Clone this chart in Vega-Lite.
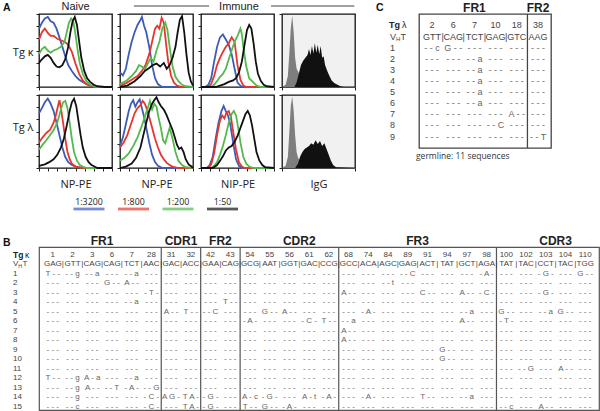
{
"$schema": "https://vega.github.io/schema/vega-lite/v6.json",
"background": "white",
"padding": {"left": 2, "top": -1, "right": 0, "bottom": 0},
"config": {"view": {"stroke": null}, "font": "Liberation Sans", "axis": {"grid": false}},
"datasets": {
"hist": [
{"p":"k1","s":"1:3200","x":[0,4,8,12,16,20,24,28,32,36,40,45,50,55,60,65,70,75,80,90,100],"y":[80,88,94,96,90,88,80,68,55,42,30,22,15,10,7,4,2,1,0,0,0]},
{"p":"k1","s":"1:800","x":[0,4,8,12,16,20,25,30,35,40,45,50,55,60,65,70,75,80,90,100],"y":[65,75,80,74,70,70,66,64,62,58,48,32,18,9,4,2,1,0,0,0]},
{"p":"k1","s":"1:200","x":[0,4,8,12,16,20,25,30,35,38,41,44,47,50,53,56,60,65,70,75,80,90,100],"y":[45,52,55,50,47,50,52,55,62,75,88,94,90,72,50,32,18,8,3,1,0,0,0]},
{"p":"k1","s":"1:50","x":[0,4,8,12,16,20,24,28,32,36,40,43,46,49,52,55,58,62,66,70,75,80,90,100],"y":[33,38,42,44,40,33,28,27,30,38,55,75,90,96,85,62,40,22,12,7,3,1,0,0]},
{"p":"k2","s":"1:3200","x":[0,4,8,12,16,20,24,28,30,33,36,40,44,48,52,56,60,100],"y":[20,16,25,45,62,75,85,92,96,84,75,55,30,12,4,1,0,0]},
{"p":"k2","s":"1:800","x":[0,8,16,24,30,35,40,44,48,51,54,57,60,63,66,70,74,78,85,100],"y":[2,5,10,15,22,30,45,62,80,84,80,95,88,60,35,15,6,2,0,0]},
{"p":"k2","s":"1:200","x":[0,8,16,22,26,30,34,38,42,46,50,54,58,62,65,68,72,76,80,85,90,100],"y":[4,8,15,22,30,28,24,32,40,35,50,62,80,88,78,55,28,14,8,3,1,0]},
{"p":"k2","s":"1:50","x":[0,10,20,28,34,40,45,50,55,60,64,68,72,76,79,82,85,88,91,94,97,100],"y":[0,2,8,15,22,26,30,32,28,33,25,30,40,55,75,92,97,75,45,20,8,2]},
{"p":"k3","s":"1:3200","x":[0,6,10,14,18,22,26,30,34,38,42,46,50,55,60,100],"y":[0,0,3,12,35,55,68,72,65,58,45,25,6,1,0,0]},
{"p":"k3","s":"1:800","x":[0,10,14,18,22,26,30,34,38,42,46,50,54,58,62,100],"y":[0,0,4,15,30,40,48,55,60,68,62,30,10,2,0,0]},
{"p":"k3","s":"1:200","x":[0,14,18,22,26,30,34,38,42,46,50,54,56,58,62,66,70,76,82,100],"y":[0,0,3,8,14,18,25,38,50,62,70,80,72,55,28,12,8,2,0,0]},
{"p":"k3","s":"1:50","x":[0,20,26,32,38,44,48,52,56,60,63,66,69,72,75,78,82,86,90,100],"y":[0,0,2,4,7,9,12,20,35,60,78,85,80,60,35,18,8,3,1,0]},
{"p":"l1","s":"1:3200","x":[0,4,8,12,16,20,24,28,32,36,40,45,50,55,60,100],"y":[75,82,90,95,88,78,62,45,28,15,8,4,2,1,0,0]},
{"p":"l1","s":"1:800","x":[0,5,10,15,20,23,26,28,30,33,36,39,42,45,50,55,60,100],"y":[35,42,48,52,62,72,85,93,82,62,40,22,12,6,2,1,0,0]},
{"p":"l1","s":"1:200","x":[0,5,10,15,20,25,30,33,36,39,42,45,48,52,56,60,65,100],"y":[25,32,38,45,52,62,80,90,92,82,62,40,22,10,4,2,0,0]},
{"p":"l1","s":"1:50","x":[0,8,14,20,25,30,34,38,42,45,48,51,54,57,60,64,68,72,76,80,100],"y":[3,5,8,12,18,28,40,58,78,90,95,85,65,45,28,15,8,4,2,0,0]},
{"p":"l2","s":"1:3200","x":[0,4,8,12,15,18,21,24,27,30,33,36,40,44,48,52,56,60,100],"y":[30,42,60,78,88,93,84,90,94,82,70,55,35,18,8,3,1,0,0]},
{"p":"l2","s":"1:800","x":[0,5,10,15,20,24,28,31,34,37,40,44,48,52,56,60,64,68,72,80,100],"y":[28,35,45,60,75,82,86,92,88,80,70,55,40,28,18,12,7,4,2,0,0]},
{"p":"l2","s":"1:200","x":[0,6,12,18,24,30,34,38,41,44,47,50,53,56,59,62,65,68,72,76,80,85,90,100],"y":[10,14,20,30,42,58,70,82,92,80,88,84,68,55,38,34,45,55,40,22,10,4,1,0]},
{"p":"l2","s":"1:50","x":[0,8,16,22,28,32,36,40,44,47,50,53,56,60,64,68,72,75,78,81,84,87,90,94,98,100],"y":[0,2,6,14,28,45,62,78,88,93,97,90,85,80,72,62,52,42,32,26,28,22,12,5,2,0]},
{"p":"l3","s":"1:3200","x":[0,8,12,16,20,24,28,31,34,37,40,44,48,52,56,100],"y":[0,0,4,15,40,62,78,85,78,72,60,35,12,3,0,0]},
{"p":"l3","s":"1:800","x":[0,10,14,18,22,26,29,32,35,38,41,44,48,52,56,60,100],"y":[0,0,5,20,45,65,72,68,76,78,70,50,25,8,2,0,0]},
{"p":"l3","s":"1:200","x":[0,14,18,22,26,30,34,38,42,45,48,51,54,58,62,66,72,100],"y":[0,0,3,8,18,30,45,62,74,78,72,55,35,15,6,2,0,0]},
{"p":"l3","s":"1:50","x":[0,16,22,26,30,34,38,42,46,50,54,58,61,64,67,70,73,76,80,84,88,100],"y":[0,0,4,10,16,24,28,30,36,44,55,66,74,78,72,58,40,22,10,4,1,0]}
],
"igg": [
{"p":"k4","s":"neg","x":[0,5,8,10,12,14,16,18,20,25,30,40,50,55,100],"y":[0,3,15,45,80,98,75,40,25,15,12,12,5,0,0]},
{"p":"k4","s":"pos","x":[17,20,23,26,29,32,35,37,39,41,43,45,47,49,51,53,55,57,59,62,65,68,72,76,80,85,100],"y":[0,6,18,30,36,40,44,52,44,56,46,60,47,58,45,56,40,42,30,22,15,9,5,3,1,0,0]},
{"p":"l4","s":"neg","x":[0,5,8,10,12,14,16,18,20,22,25,30,35,40,45,50,100],"y":[0,3,15,48,85,98,78,45,22,14,10,8,7,6,4,0,0]},
{"p":"l4","s":"pos","x":[18,22,25,28,31,34,37,40,43,46,49,52,55,58,61,64,67,70,74,100],"y":[0,6,16,22,26,28,30,34,32,38,33,37,30,34,26,18,10,4,1,0]}
],
"bgerm": [{"c":"1","g":"GAG"},{"c":"2","g":"GTT"},{"c":"3","g":"CAG"},{"c":"6","g":"CAG"},{"c":"7","g":"TCT"},{"c":"28","g":"AAC"},{"c":"31","g":"GAC"},{"c":"32","g":"ACC"},{"c":"42","g":"GAA"},{"c":"43","g":"CAG"},{"c":"54","g":"GCG"},{"c":"55","g":"AAT"},{"c":"56","g":"GGT"},{"c":"61","g":"GAC"},{"c":"62","g":"CCG"},{"c":"68","g":"GCC"},{"c":"74","g":"ACA"},{"c":"84","g":"AGC"},{"c":"89","g":"GAG"},{"c":"91","g":"ACT"},{"c":"94","g":"TAT"},{"c":"97","g":"GCT"},{"c":"98","g":"AGA"},{"c":"100","g":"TAT"},{"c":"102","g":"TAC"},{"c":"103","g":"CCT"},{"c":"104","g":"TAC"},{"c":"110","g":"TGG"}],
"bmut": [
{"row":1,"1":"T - -","2":"- - g","3":"- - a","6":"- - -","7":"- - a","28":"- - -","31":"- - -","32":"- - -","42":"- - -","43":"- - -","54":"- - -","55":"- - -","56":"- - -","61":"- - -","62":"- - -","68":"- - -","74":"- - -","84":"- - -","89":"- - C","91":"- - -","94":"- - -","97":"- - -","98":"- A -","100":"- - -","102":"- - -","103":"- G -","104":"- - -","110":"G - -"},
{"row":2,"1":"- - -","2":"- - -","3":"- - -","6":"G - -","7":"A - -","28":"- - -","31":"- - -","32":"- - -","42":"- - -","43":"- - -","54":"- - -","55":"- - -","56":"- - -","61":"- - -","62":"- - -","68":"- - -","74":"- - -","84":"- - t","89":"- - -","91":"- - -","94":"- - -","97":"- - -","98":"- - -","100":"- - -","102":"- - -","103":"- - -","104":"- - -","110":"- - -"},
{"row":3,"1":"- - -","2":"- - -","3":"- - -","6":"- - -","7":"- - -","28":"- T -","31":"- - -","32":"- - -","42":"- - -","43":"- - -","54":"- - -","55":"- - -","56":"- - -","61":"- - -","62":"- - -","68":"A - -","74":"- - -","84":"- - -","89":"- - -","91":"C - -","94":"- - -","97":"A - -","98":"- C -","100":"- - -","102":"- - -","103":"- G -","104":"- - -","110":"- - -"},
{"row":4,"1":"- - -","2":"- - -","3":"- - -","6":"- - -","7":"- - a","28":"- - -","31":"- - -","32":"- - -","42":"- - -","43":"T - -","54":"- - -","55":"- - -","56":"- - -","61":"- - -","62":"- - -","68":"- - -","74":"- - -","84":"- - -","89":"- - -","91":"- - -","94":"- - -","97":"- - -","98":"- - -","100":"- - -","102":"- - -","103":"- - -","104":"- - -","110":"- - -"},
{"row":5,"1":"- - -","2":"- - -","3":"- - -","6":"- - -","7":"- - -","28":"- - -","31":"A - -","32":"T - -","42":"- - C","43":"- - -","54":"- - -","55":"G - -","56":"A - -","61":"- - -","62":"- - -","68":"- - -","74":"- A -","84":"- - -","89":"- - -","91":"- - -","94":"- - -","97":"- - a","98":"- - -","100":"G - -","102":"- - -","103":"- - a","104":"G - -","110":"- - -"},
{"row":6,"1":"- - -","2":"- - -","3":"- - -","6":"- - -","7":"- - -","28":"- - -","31":"- - -","32":"- - -","42":"- - -","43":"- - -","54":"- A -","55":"- - -","56":"- - -","61":"- C -","62":"T - -","68":"- - a","74":"- - -","84":"- - -","89":"- - -","91":"- - -","94":"- - -","97":"A - -","98":"- - -","100":"- T -","102":"- - -","103":"- - -","104":"- - -","110":"- - -"},
{"row":7,"1":"- - -","2":"- - -","3":"- - -","6":"- - -","7":"- - -","28":"- - -","31":"- - -","32":"- - -","42":"- - -","43":"- - -","54":"- - -","55":"- - -","56":"- - -","61":"- - -","62":"- - -","68":"A - -","74":"- - -","84":"- - -","89":"- - -","91":"- - -","94":"- - -","97":"- - -","98":"- - -","100":"- - -","102":"- - -","103":"- - -","104":"- - -","110":"- - -"},
{"row":8,"1":"- - -","2":"- - -","3":"- - -","6":"- - -","7":"- - -","28":"- - -","31":"- - -","32":"- - -","42":"- - -","43":"- - -","54":"- - -","55":"- - -","56":"- - -","61":"- - -","62":"- - -","68":"A - -","74":"- - -","84":"- - -","89":"- - -","91":"- - -","94":"- - -","97":"- - -","98":"- - -","100":"- - -","102":"- - -","103":"- - -","104":"- - -","110":"- - -"},
{"row":9,"1":"- - -","2":"- - -","3":"- - -","6":"- - -","7":"- - -","28":"- - -","31":"- - -","32":"- - -","42":"- - -","43":"- - -","54":"- - -","55":"- - -","56":"- - -","61":"- - -","62":"- - -","68":"- - -","74":"- - -","84":"- - -","89":"- - -","91":"- - -","94":"G - -","97":"- - -","98":"- - -","100":"- - -","102":"- - -","103":"- - -","104":"- - -","110":"- - -"},
{"row":10,"1":"- - -","2":"- - -","3":"- - -","6":"- - -","7":"- - -","28":"- - -","31":"- - -","32":"- - -","42":"- - -","43":"- - -","54":"- - -","55":"- - -","56":"- - -","61":"- - -","62":"- - -","68":"- - -","74":"- - -","84":"- - -","89":"- - -","91":"- - -","94":"G - -","97":"- - -","98":"- - -","100":"- - -","102":"- - -","103":"- - -","104":"- - -","110":"- - -"},
{"row":11,"1":"- - -","2":"- - -","3":"- - -","6":"- - -","7":"- - -","28":"- - -","31":"- - -","32":"- - -","42":"- - -","43":"- - -","54":"- - -","55":"- - -","56":"- - -","61":"- - -","62":"- - -","68":"- - -","74":"- - -","84":"- - -","89":"- - -","91":"- - -","94":"- - -","97":"- - -","98":"- - -","100":"- - -","102":"- - G","103":"- - -","104":"A - -","110":"- - -"},
{"row":12,"1":"T - -","2":"- - g","3":"A - a","6":"- - -","7":"- - a","28":"- - -","31":"- - -","32":"- - -","42":"- - -","43":"- - -","54":"- - -","55":"- - -","56":"- - -","61":"- - -","62":"- - -","68":"- - -","74":"- - -","84":"- - -","89":"- - -","91":"- - -","94":"- - -","97":"- - -","98":"- - -","100":"- - -","102":"- - -","103":"- - -","104":"- - -","110":"- - -"},
{"row":13,"1":"- - -","2":"- - g","3":"A - -","6":"- - T","7":"- A -","28":"- - G","31":"- - -","32":"- - -","42":"- - -","43":"- - -","54":"- - -","55":"- - -","56":"- - -","61":"- - -","62":"- - -","68":"- - -","74":"- - -","84":"- - -","89":"- - -","91":"- - -","94":"- - -","97":"- - -","98":"- - -","100":"- - -","102":"- - -","103":"- - -","104":"- - -","110":"- - -"},
{"row":14,"1":"- - -","2":"- - g","3":"- - -","6":"- - -","7":"- - -","28":"- C -","31":"A G -","32":"T A -","42":"- G -","43":"- - -","54":"A - c","55":"- G -","56":"- - -","61":"A - t","62":"- A -","68":"- - -","74":"- A -","84":"- - -","89":"- - -","91":"T - -","94":"- - -","97":"- - a","98":"- - -","100":"- - -","102":"- - -","103":"- - -","104":"- - -","110":"- - -"},
{"row":15,"1":"- - -","2":"- - c","3":"- - -","6":"- - -","7":"- - -","28":"- C -","31":"- - -","32":"T A -","42":"- G -","43":"- - -","54":"T - -","55":"G - -","56":"- A -","61":"- - -","62":"- - -","68":"- - -","74":"- - -","84":"- - -","89":"- - -","91":"- - -","94":"- - -","97":"- - -","98":"- - -","100":"- - c","102":"- - -","103":"A - -","104":"- - -","110":"- - -"}
],
"cgerm": [{"c":"2","g":"GTT"},{"c":"6","g":"CAG"},{"c":"7","g":"TCT"},{"c":"10","g":"GAG"},{"c":"18","g":"GTC"},{"c":"38","g":"AAG"}],
"cmut": [
{"row":1,"2":"- - c","6":"G - -","7":"- - -","10":"- - -","18":"- - -","38":"- - -"},
{"row":2,"2":"- - -","6":"- - -","7":"- - a","10":"- - -","18":"- - -","38":"- - -"},
{"row":3,"2":"- - -","6":"- - -","7":"- - a","10":"- - -","18":"- - -","38":"- - -"},
{"row":4,"2":"- - -","6":"- - -","7":"- - a","10":"- - -","18":"- - -","38":"- - -"},
{"row":5,"2":"- - -","6":"- - -","7":"- - a","10":"- - -","18":"- - -","38":"- - -"},
{"row":6,"2":"- - -","6":"- - -","7":"- - a","10":"- - -","18":"- - -","38":"- - -"},
{"row":7,"2":"- - -","6":"- - -","7":"- - -","10":"- - -","18":"A - -","38":"- - -"},
{"row":8,"2":"- - -","6":"- - -","7":"- - -","10":"- - C","18":"- - -","38":"- - -"},
{"row":9,"2":"- - -","6":"- - -","7":"- - -","10":"- - -","18":"- - -","38":"- - T"}
]
},
"vconcat": [
{"hconcat": [
 {"vconcat": [
  {"hconcat": [
   {"width": 73, "height": 73, "view": {"stroke": "#111", "strokeWidth": 1.3},
    "layer": [
     {"data": {"name": "hist"}, "transform": [{"filter": "datum.p == 'k1'"}, {"flatten": ["x", "y"]}],
      "mark": {"type": "line", "strokeWidth": 1.8},
      "encoding": {
       "x": {"field": "x", "type": "quantitative", "scale": {"domain": [0, 100], "nice": false}, "axis": {"title": null, "labels": false, "domain": false, "tickSize": 3, "tickColor": "#222", "values": [0,12.5,25,37.5,50,62.5,75,87.5,100]}},
       "y": {"field": "y", "type": "quantitative", "scale": {"domain": [0, 100], "nice": false}, "axis": {"title": "Tg κ", "titleAngle": 0, "titleAlign": "right", "titleBaseline": "middle", "titleX": -6, "titleY": 38, "titleFont": "Open Sans", "titleFontSize": 11, "titleFontWeight": "normal", "titleColor": "#222", "labels": false, "domain": false, "tickSize": 3, "tickColor": "#222", "values": [0,16.7,33.3,50,66.7,83.3,100]}},
       "color": {"field": "s", "type": "nominal", "scale": {"domain": ["1:3200","1:800","1:200","1:50"], "range": ["#3d5cb8","#e8352c","#54b84c","#111111"]}, "legend": null}}},
     {"data": {"values": [{"t": "A"}]}, "mark": {"type": "text", "fontSize": 10.5, "fontWeight": "bold", "align": "left", "baseline": "alphabetic", "color": "#111"}, "encoding": {"x": {"value": -36}, "y": {"value": -3}, "text": {"field": "t"}}},
     {"data": {"values": [{"t": " "}]}, "mark": {"type": "text", "fontSize": 12, "fontWeight": "bold", "align": "left", "baseline": "alphabetic"}, "encoding": {"x": {"value": 0}, "y": {"value": -4}, "text": {"field": "t"}}},
     {"data": {"values": [{"t": "Naive"}]}, "mark": {"type": "text", "fontSize": 11, "baseline": "alphabetic", "color": "#222"}, "encoding": {"x": {"datum": 50}, "y": {"value": -4}, "text": {"field": "t"}}}
    ]},
   {"width": 73, "height": 73, "view": {"stroke": "#111", "strokeWidth": 1.3},
    "layer": [
     {"data": {"name": "hist"}, "transform": [{"filter": "datum.p == 'k2'"}, {"flatten": ["x", "y"]}],
      "mark": {"type": "line", "strokeWidth": 1.8},
      "encoding": {
       "x": {"field": "x", "type": "quantitative", "scale": {"domain": [0, 100], "nice": false}, "axis": {"title": null, "labels": false, "domain": false, "tickSize": 3, "tickColor": "#222", "values": [0,12.5,25,37.5,50,62.5,75,87.5,100]}},
       "y": {"field": "y", "type": "quantitative", "scale": {"domain": [0, 100], "nice": false}, "axis": {"title": null, "labels": false, "domain": false, "tickSize": 3, "tickColor": "#222", "values": [0,16.7,33.3,50,66.7,83.3,100]}},
       "color": {"field": "s", "type": "nominal", "legend": null}}},
     {"data": {"values": [{}]}, "mark": {"type": "rule", "color": "#444", "strokeWidth": 1}, "encoding": {"x": {"datum": 19}, "x2": {"datum": 122}, "y": {"value": -8}}}
    ]},
   {"width": 73, "height": 73, "view": {"stroke": "#111", "strokeWidth": 1.3},
    "layer": [
     {"data": {"name": "hist"}, "transform": [{"filter": "datum.p == 'k3'"}, {"flatten": ["x", "y"]}],
      "mark": {"type": "line", "strokeWidth": 1.8},
      "encoding": {
       "x": {"field": "x", "type": "quantitative", "scale": {"domain": [0, 100], "nice": false}, "axis": {"title": null, "labels": false, "domain": false, "tickSize": 3, "tickColor": "#222", "values": [0,12.5,25,37.5,50,62.5,75,87.5,100]}},
       "y": {"field": "y", "type": "quantitative", "scale": {"domain": [0, 100], "nice": false}, "axis": {"title": null, "labels": false, "domain": false, "tickSize": 3, "tickColor": "#222", "values": [0,16.7,33.3,50,66.7,83.3,100]}},
       "color": {"field": "s", "type": "nominal", "legend": null}}},
     {"data": {"values": [{}]}, "mark": {"type": "rule", "color": "#444", "strokeWidth": 1}, "encoding": {"x": {"datum": 96}, "x2": {"datum": 210}, "y": {"value": -8}}},
     {"data": {"values": [{"t": "Immune"}]}, "mark": {"type": "text", "fontSize": 11, "baseline": "alphabetic", "color": "#222"}, "encoding": {"x": {"datum": 52}, "y": {"value": -4}, "text": {"field": "t"}}}
    ]},
   {"width": 73, "height": 73, "view": {"stroke": "#111", "strokeWidth": 1.3, "fill": "#f1f1f1"},
    "layer": [
     {"data": {"name": "igg"}, "transform": [{"filter": "datum.p == 'k4' && datum.s == 'neg'"}, {"flatten": ["x", "y"]}],
      "mark": {"type": "area", "color": "#7e7e7e"},
      "encoding": {
       "x": {"field": "x", "type": "quantitative", "scale": {"domain": [0, 100], "nice": false}, "axis": {"title": null, "labels": false, "domain": false, "tickSize": 3, "tickColor": "#222", "values": [0,12.5,25,37.5,50,62.5,75,87.5,100]}},
       "y": {"field": "y", "type": "quantitative", "scale": {"domain": [0, 100], "nice": false}, "axis": {"title": null, "labels": false, "domain": false, "tickSize": 3, "tickColor": "#222", "values": [0,16.7,33.3,50,66.7,83.3,100]}}}},
     {"data": {"name": "igg"}, "transform": [{"filter": "datum.p == 'k4' && datum.s == 'pos'"}, {"flatten": ["x", "y"]}],
      "mark": {"type": "area", "color": "#111111"},
      "encoding": {
       "x": {"field": "x", "type": "quantitative", "title": null},
       "y": {"field": "y", "type": "quantitative", "title": null}}}
    ]}
  ], "spacing": 8, "bounds": "flush"},
  {"hconcat": [
   {"width": 73, "height": 73, "view": {"stroke": "#111", "strokeWidth": 1.3},
    "layer": [
     {"data": {"name": "hist"}, "transform": [{"filter": "datum.p == 'l1'"}, {"flatten": ["x", "y"]}],
      "mark": {"type": "line", "strokeWidth": 1.8},
      "encoding": {
       "x": {"field": "x", "type": "quantitative", "scale": {"domain": [0, 100], "nice": false}, "axis": {"title": "NP-PE", "titleFont": "Open Sans", "titleFontSize": 11, "titleFontWeight": "normal", "titleColor": "#222", "titlePadding": 7, "labels": false, "domain": false, "tickSize": 3, "tickColor": "#222", "values": [0,12.5,25,37.5,50,62.5,75,87.5,100]}},
       "y": {"field": "y", "type": "quantitative", "scale": {"domain": [0, 100], "nice": false}, "axis": {"title": "Tg λ", "titleAngle": 0, "titleAlign": "right", "titleBaseline": "middle", "titleX": -6, "titleY": 32, "titleFont": "Open Sans", "titleFontSize": 11, "titleFontWeight": "normal", "titleColor": "#222", "labels": false, "domain": false, "tickSize": 3, "tickColor": "#222", "values": [0,16.7,33.3,50,66.7,83.3,100]}},
       "color": {"field": "s", "type": "nominal", "legend": null}}},
     {"data": {"values": [{"t": " "}]}, "mark": {"type": "text", "fontSize": 10.5, "fontWeight": "bold", "align": "left", "baseline": "middle"}, "encoding": {"x": {"value": -36}, "y": {"value": 30}, "text": {"field": "t"}}}
    ]},
   {"width": 73, "height": 73, "view": {"stroke": "#111", "strokeWidth": 1.3},
    "layer": [
     {"data": {"name": "hist"}, "transform": [{"filter": "datum.p == 'l2'"}, {"flatten": ["x", "y"]}],
      "mark": {"type": "line", "strokeWidth": 1.8},
      "encoding": {
       "x": {"field": "x", "type": "quantitative", "scale": {"domain": [0, 100], "nice": false}, "axis": {"title": "NP-PE", "titleFont": "Open Sans", "titleFontSize": 11, "titleFontWeight": "normal", "titleColor": "#222", "titlePadding": 7, "labels": false, "domain": false, "tickSize": 3, "tickColor": "#222", "values": [0,12.5,25,37.5,50,62.5,75,87.5,100]}},
       "y": {"field": "y", "type": "quantitative", "scale": {"domain": [0, 100], "nice": false}, "axis": {"title": null, "labels": false, "domain": false, "tickSize": 3, "tickColor": "#222", "values": [0,16.7,33.3,50,66.7,83.3,100]}},
       "color": {"field": "s", "type": "nominal", "legend": null}}}
    ]},
   {"width": 73, "height": 73, "view": {"stroke": "#111", "strokeWidth": 1.3},
    "layer": [
     {"data": {"name": "hist"}, "transform": [{"filter": "datum.p == 'l3'"}, {"flatten": ["x", "y"]}],
      "mark": {"type": "line", "strokeWidth": 1.8},
      "encoding": {
       "x": {"field": "x", "type": "quantitative", "scale": {"domain": [0, 100], "nice": false}, "axis": {"title": "NIP-PE", "titleFont": "Open Sans", "titleFontSize": 11, "titleFontWeight": "normal", "titleColor": "#222", "titlePadding": 7, "labels": false, "domain": false, "tickSize": 3, "tickColor": "#222", "values": [0,12.5,25,37.5,50,62.5,75,87.5,100]}},
       "y": {"field": "y", "type": "quantitative", "scale": {"domain": [0, 100], "nice": false}, "axis": {"title": null, "labels": false, "domain": false, "tickSize": 3, "tickColor": "#222", "values": [0,16.7,33.3,50,66.7,83.3,100]}},
       "color": {"field": "s", "type": "nominal", "legend": null}}}
    ]},
   {"width": 73, "height": 73, "view": {"stroke": "#111", "strokeWidth": 1.3, "fill": "#f1f1f1"},
    "layer": [
     {"data": {"name": "igg"}, "transform": [{"filter": "datum.p == 'l4' && datum.s == 'neg'"}, {"flatten": ["x", "y"]}],
      "mark": {"type": "area", "color": "#7e7e7e"},
      "encoding": {
       "x": {"field": "x", "type": "quantitative", "scale": {"domain": [0, 100], "nice": false}, "axis": {"title": "IgG", "titleFont": "Open Sans", "titleFontSize": 11, "titleFontWeight": "normal", "titleColor": "#222", "titlePadding": 7, "labels": false, "domain": false, "tickSize": 3, "tickColor": "#222", "values": [0,12.5,25,37.5,50,62.5,75,87.5,100]}},
       "y": {"field": "y", "type": "quantitative", "scale": {"domain": [0, 100], "nice": false}, "axis": {"title": null, "labels": false, "domain": false, "tickSize": 3, "tickColor": "#222", "values": [0,16.7,33.3,50,66.7,83.3,100]}}}},
     {"data": {"name": "igg"}, "transform": [{"filter": "datum.p == 'l4' && datum.s == 'pos'"}, {"flatten": ["x", "y"]}],
      "mark": {"type": "area", "color": "#111111"},
      "encoding": {
       "x": {"field": "x", "type": "quantitative", "title": "IgG"},
       "y": {"field": "y", "type": "quantitative", "title": null}}}
    ]}
  ], "spacing": 8, "bounds": "flush"},
  {"width": 316, "height": 20,
   "layer": [
    {"data": {"values": [{"s": "1:3200"}, {"s": "1:800"}, {"s": "1:200"}, {"s": "1:50"}]},
     "mark": {"type": "tick", "orient": "horizontal", "thickness": 2.8, "size": 31},
     "encoding": {"x": {"field": "s", "type": "nominal", "scale": {"domain": ["1:3200","1:800","1:200","1:50"], "range": [27.75, 205.75]}, "axis": null}, "y": {"value": 18}, "color": {"field": "s", "type": "nominal", "legend": null}}},
    {"data": {"values": [{"s": "1:3200"}, {"s": "1:800"}, {"s": "1:200"}, {"s": "1:50"}]},
     "mark": {"type": "text", "font": "Open Sans", "fontSize": 8.8, "color": "#222", "baseline": "middle"},
     "encoding": {"x": {"field": "s", "type": "nominal", "axis": null}, "y": {"value": 10.5}, "text": {"field": "s"}}},
    {"data": {"values": [{"t": " "}]}, "mark": {"type": "text", "fontSize": 10.5, "fontWeight": "bold", "align": "left", "baseline": "middle"}, "encoding": {"x": {"value": -36}, "y": {"value": 10.5}, "text": {"field": "t"}}}
   ]}
 ], "spacing": 0},
 {"width": 132, "height": 134, "view": {"stroke": "#444", "strokeWidth": 1.3},
  "layer": [
   {"data": {"values": [{"c": "38"}]}, "mark": {"type": "rule", "color": "#444", "strokeWidth": 1.3},
    "encoding": {"x": {"field": "c", "type": "ordinal", "bandPosition": 0, "scale": {"type": "band", "domain": ["2","6","7","10","18","38"], "paddingInner": 0, "paddingOuter": 0.11}, "axis": null}}},
   {"data": {"name": "cgerm"}, "mark": {"type": "text", "fontSize": 9, "color": "#444", "baseline": "middle"},
    "encoding": {"x": {"field": "c", "type": "ordinal", "axis": null}, "y": {"datum": -1, "type": "quantitative", "scale": {"domain": [-2.03, 10.03], "reverse": true, "nice": false, "zero": false}, "axis": null}, "text": {"field": "c"}}},
   {"data": {"name": "cgerm"}, "mark": {"type": "text", "fontSize": 9, "color": "#444", "baseline": "middle"},
    "encoding": {"x": {"field": "c", "type": "ordinal", "axis": null}, "y": {"datum": 0, "type": "quantitative", "axis": null}, "text": {"field": "g"}}},
   {"data": {"name": "cgerm"}, "transform": [{"filter": "datum.c != '2' && datum.c != '38'"}], "mark": {"type": "text", "fontSize": 9, "color": "#444", "baseline": "middle", "text": "|"},
    "encoding": {"x": {"field": "c", "type": "ordinal", "bandPosition": 0, "axis": null}, "y": {"datum": 0, "type": "quantitative", "axis": null}}},
   {"data": {"name": "cmut"}, "transform": [{"fold": ["2","6","7","10","18","38"], "as": ["c", "t"]}], "mark": {"type": "text", "fontSize": 9, "color": "#666", "baseline": "middle"},
    "encoding": {"x": {"field": "c", "type": "ordinal", "axis": null}, "y": {"field": "row", "type": "quantitative", "axis": null}, "text": {"field": "t"}}},
   {"data": {"name": "cmut"}, "mark": {"type": "text", "fontSize": 9, "color": "#444", "baseline": "middle", "align": "left", "dx": -29},
    "encoding": {"x": {"value": 0}, "y": {"field": "row", "type": "quantitative", "axis": null}, "text": {"field": "row"}}},
   {"data": {"values": [{"t": "Tg"}]}, "mark": {"type": "text", "fontSize": 9, "fontWeight": "bold", "color": "#222", "baseline": "middle", "align": "left", "dx": -30},
    "encoding": {"x": {"value": 0}, "y": {"datum": -1, "type": "quantitative", "axis": null}, "text": {"field": "t"}}},
   {"data": {"values": [{"t": "λ"}]}, "mark": {"type": "text", "fontSize": 9, "color": "#222", "baseline": "middle", "align": "left", "dx": -17},
    "encoding": {"x": {"value": 0}, "y": {"datum": -1, "type": "quantitative", "axis": null}, "text": {"field": "t"}}},
   {"data": {"values": [{"t": "V"}]}, "mark": {"type": "text", "fontSize": 9, "color": "#444", "baseline": "middle", "align": "left", "dx": -29},
    "encoding": {"x": {"value": 0}, "y": {"datum": 0, "type": "quantitative", "axis": null}, "text": {"field": "t"}}},
   {"data": {"values": [{"t": "H"}]}, "mark": {"type": "text", "fontSize": 6, "color": "#444", "baseline": "middle", "align": "left", "dx": -23, "dy": 2.5},
    "encoding": {"x": {"value": 0}, "y": {"datum": 0, "type": "quantitative", "axis": null}, "text": {"field": "t"}}},
   {"data": {"values": [{"t": "T"}]}, "mark": {"type": "text", "fontSize": 9, "color": "#444", "baseline": "middle", "align": "left", "dx": -18.5},
    "encoding": {"x": {"value": 0}, "y": {"datum": 0, "type": "quantitative", "axis": null}, "text": {"field": "t"}}},
   {"data": {"values": [{"r": "FR1", "c": "7"}, {"r": "FR2", "c": "38"}]}, "mark": {"type": "text", "fontSize": 12, "fontWeight": "bold", "color": "#222", "baseline": "alphabetic"},
    "encoding": {"x": {"field": "c", "type": "ordinal", "axis": null}, "y": {"value": -2}, "text": {"field": "r"}}},
   {"data": {"values": [{"t": "C"}]}, "mark": {"type": "text", "fontSize": 10.5, "fontWeight": "bold", "color": "#111", "baseline": "alphabetic", "align": "left"},
    "encoding": {"x": {"value": -43}, "y": {"value": -3}, "text": {"field": "t"}}},
   {"data": {"values": [{"t": "germline: 11 sequences"}]}, "mark": {"type": "text", "font": "Open Sans", "fontSize": 8.5, "color": "#333", "baseline": "middle", "align": "left"},
    "encoding": {"x": {"value": -3}, "y": {"value": 142}, "text": {"field": "t"}}}
  ]}
], "spacing": 18},
{"width": 560, "height": 163, "view": {"stroke": "#555", "strokeWidth": 1.2},
 "layer": [
  {"data": {"values": [{"c": "31"}, {"c": "42"}, {"c": "54"}, {"c": "68"}, {"c": "100"}]}, "mark": {"type": "rule", "color": "#555", "strokeWidth": 1.2},
   "encoding": {"x": {"field": "c", "type": "ordinal", "bandPosition": 0, "scale": {"type": "band", "domain": ["1","2","3","6","7","28","31","32","42","43","54","55","56","61","62","68","74","84","89","91","94","97","98","100","102","103","104","110"], "paddingInner": 0, "paddingOuter": 0.2}, "axis": null}}},
  {"data": {"name": "bgerm"}, "mark": {"type": "text", "fontSize": 8, "color": "#444", "baseline": "middle"},
   "encoding": {"x": {"field": "c", "type": "ordinal", "axis": null}, "y": {"datum": -1, "type": "quantitative", "scale": {"domain": [-1.79, 15.34], "reverse": true, "nice": false, "zero": false}, "axis": null}, "text": {"field": "c"}}},
  {"data": {"name": "bgerm"}, "mark": {"type": "text", "fontSize": 8, "color": "#444", "baseline": "middle"},
   "encoding": {"x": {"field": "c", "type": "ordinal", "axis": null}, "y": {"datum": 0, "type": "quantitative", "axis": null}, "text": {"field": "g"}}},
  {"data": {"name": "bgerm"}, "transform": [{"filter": "datum.c != '1'"}], "mark": {"type": "text", "fontSize": 8, "color": "#444", "baseline": "middle", "text": "|"},
   "encoding": {"x": {"field": "c", "type": "ordinal", "bandPosition": 0, "axis": null}, "y": {"datum": 0, "type": "quantitative", "axis": null}}},
  {"data": {"name": "bmut"}, "transform": [{"fold": ["1","2","3","6","7","28","31","32","42","43","54","55","56","61","62","68","74","84","89","91","94","97","98","100","102","103","104","110"], "as": ["c", "t"]}],
   "mark": {"type": "text", "fontSize": 8, "color": "#666", "baseline": "middle"},
   "encoding": {"x": {"field": "c", "type": "ordinal", "axis": null}, "y": {"field": "row", "type": "quantitative", "axis": null}, "text": {"field": "t"}}},
  {"data": {"name": "bmut"}, "mark": {"type": "text", "fontSize": 8, "color": "#444", "baseline": "middle", "align": "left", "dx": -26},
   "encoding": {"x": {"value": 0}, "y": {"field": "row", "type": "quantitative", "axis": null}, "text": {"field": "row"}}},
  {"data": {"values": [{"t": "Tg"}]}, "mark": {"type": "text", "fontSize": 8.5, "fontWeight": "bold", "color": "#222", "baseline": "middle", "align": "left", "dx": -26},
   "encoding": {"x": {"value": 0}, "y": {"datum": -1, "type": "quantitative", "axis": null}, "text": {"field": "t"}}},
  {"data": {"values": [{"t": "κ"}]}, "mark": {"type": "text", "fontSize": 8.5, "color": "#222", "baseline": "middle", "align": "left", "dx": -14},
   "encoding": {"x": {"value": 0}, "y": {"datum": -1, "type": "quantitative", "axis": null}, "text": {"field": "t"}}},
  {"data": {"values": [{"t": "V"}]}, "mark": {"type": "text", "fontSize": 8, "color": "#444", "baseline": "middle", "align": "left", "dx": -26},
   "encoding": {"x": {"value": 0}, "y": {"datum": 0, "type": "quantitative", "axis": null}, "text": {"field": "t"}}},
  {"data": {"values": [{"t": "H"}]}, "mark": {"type": "text", "fontSize": 5.5, "color": "#444", "baseline": "middle", "align": "left", "dx": -20.8, "dy": 2},
   "encoding": {"x": {"value": 0}, "y": {"datum": 0, "type": "quantitative", "axis": null}, "text": {"field": "t"}}},
  {"data": {"values": [{"t": "T"}]}, "mark": {"type": "text", "fontSize": 8, "color": "#444", "baseline": "middle", "align": "left", "dx": -16.6},
   "encoding": {"x": {"value": 0}, "y": {"datum": 0, "type": "quantitative", "axis": null}, "text": {"field": "t"}}},
  {"data": {"values": [{"r": "FR1", "c": "6"}, {"r": "CDR1", "c": "32"}, {"r": "FR2", "c": "43"}, {"r": "CDR2", "c": "61"}, {"r": "FR3", "c": "91"}, {"r": "CDR3", "c": "104"}]},
   "mark": {"type": "text", "fontSize": 12, "fontWeight": "bold", "color": "#222", "baseline": "alphabetic"},
   "encoding": {"x": {"field": "c", "type": "ordinal", "bandPosition": 0, "axis": null}, "y": {"value": -2}, "text": {"field": "r"}}},
  {"data": {"values": [{"t": "B"}]}, "mark": {"type": "text", "fontSize": 10.5, "fontWeight": "bold", "color": "#111", "baseline": "alphabetic", "align": "left"},
   "encoding": {"x": {"value": -36}, "y": {"value": -1}, "text": {"field": "t"}}}
 ]}
],
"spacing": 23
}
